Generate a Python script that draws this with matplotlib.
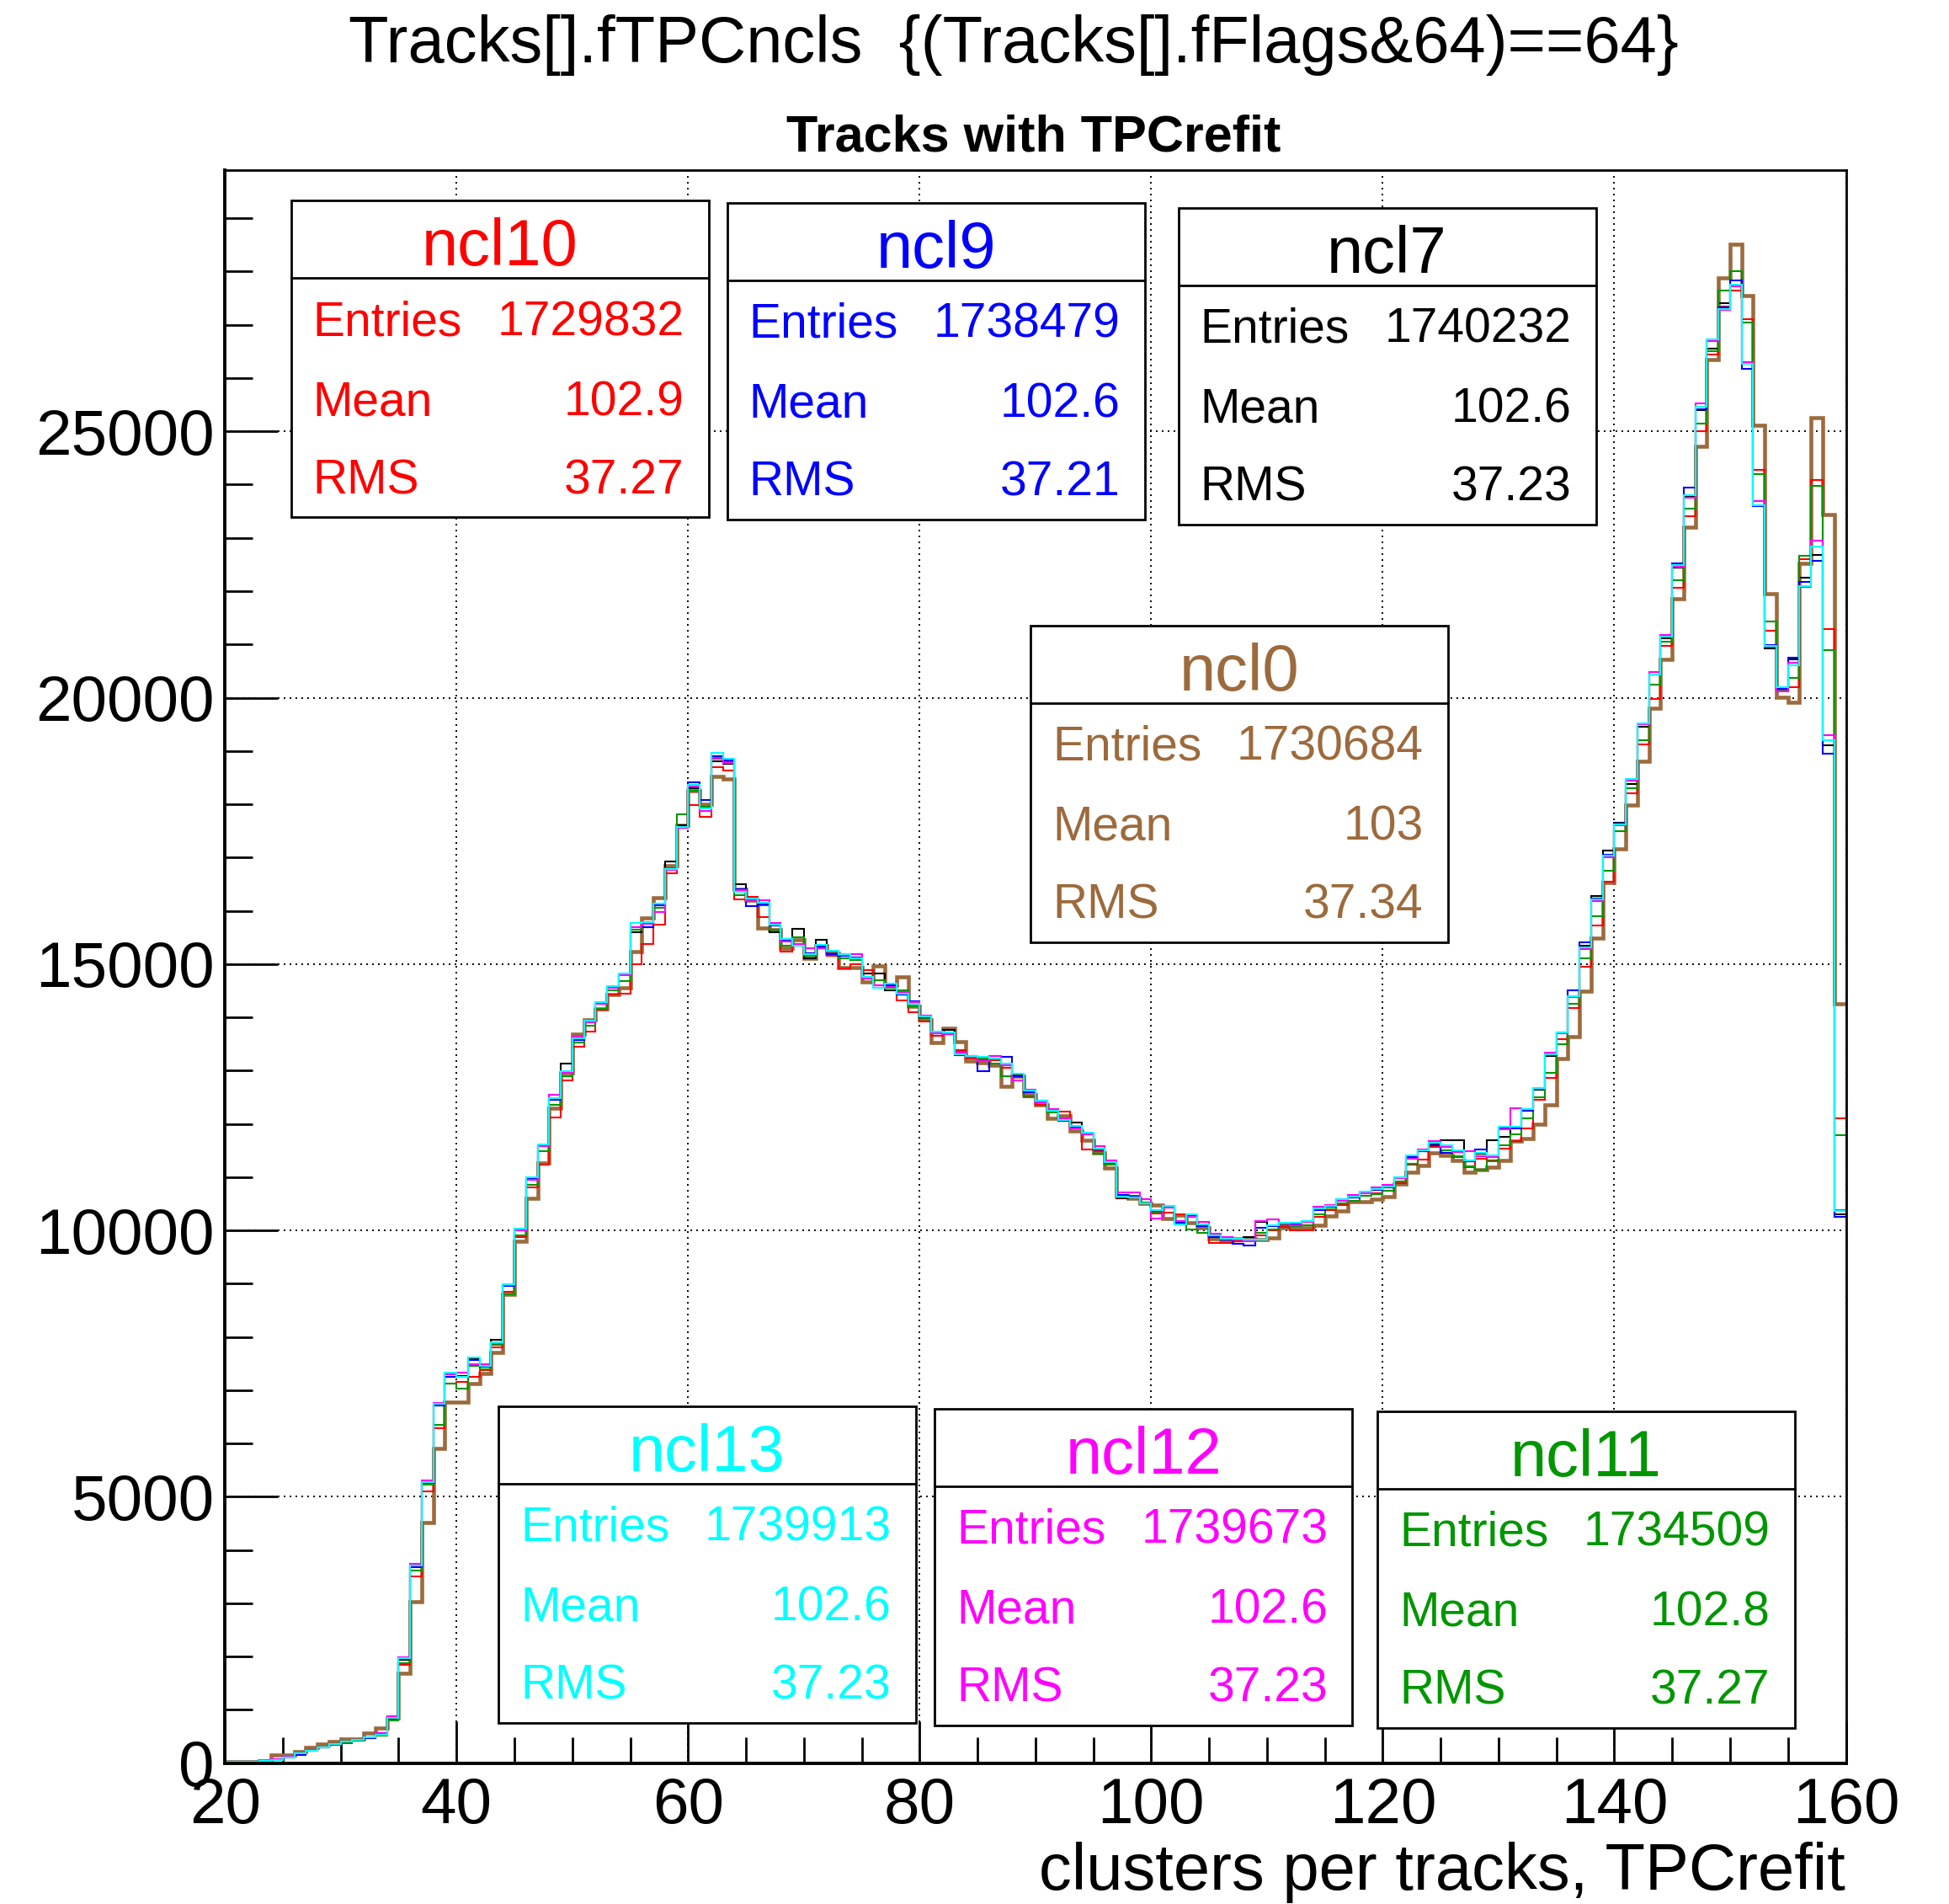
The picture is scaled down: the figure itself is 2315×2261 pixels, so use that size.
import numpy as np
import matplotlib.pyplot as plt
from matplotlib.patches import Rectangle
from matplotlib.lines import Line2D
from matplotlib.ticker import FormatStrFormatter

plt.rcParams['font.family'] = ['Liberation Sans', 'DejaVu Sans']

# bin edges: 1-cluster bins from 20 to 160
edges = np.arange(20, 161)

# counts per bin, bins 20..159 (10 per line)
ncl13 = [30, 30, 30, 40, 60, 100, 190, 230, 300, 360,
         400, 430, 480, 530, 840, 1975, 3710, 5275, 6740, 7330,
         7255, 7610, 7450, 7900, 8990, 10040, 10990, 11620, 12480, 12990,
         13600, 13940, 14280, 14585, 14815, 15770, 15780, 16130, 16790, 17580,
         18370, 17920, 18970, 18860, 16360, 16230, 16145, 15740, 15470, 15340,
         15180, 15355, 15250, 15185, 15105, 14760, 14550, 14630, 14445, 14260,
         14020, 13730, 13710, 13310, 13280, 13250, 13230, 13125, 12940, 12620,
         12440, 12250, 12070, 11960, 11830, 11540, 11280, 10640, 10620, 10510,
         10380, 10460, 10115, 10300, 10115, 9905, 9850, 9850, 9820, 9820,
         10090, 10136, 10136, 10180, 10410, 10455, 10590, 10636, 10727, 10772,
         10817, 11000, 11407, 11500, 11650, 11590, 11500, 11316, 11450, 11407,
         11950, 11950, 12270, 12680, 13310, 13720, 14400, 15310, 16216, 17030,
         17620, 18480, 19520, 20440, 21150, 22490, 23800, 25460, 26730, 27300,
         27760, 26270, 23620, 20970, 20190, 20615, 22100, 22840, 19200, 10360]

ncl12 = [30, 30, 30, 40, 70, 120, 180, 240, 300, 360,
         400, 440, 490, 560, 880, 1990, 3740, 5300, 6760, 7300,
         7330, 7480, 7480, 7880, 8970, 10000, 10950, 11580, 12550, 12960,
         13630, 13900, 14250, 14560, 14790, 15700, 15750, 15970, 16760, 17560,
         18330, 17880, 18870, 18780, 16380, 16180, 16200, 15770, 15420, 15380,
         15290, 15300, 15230, 15170, 15180, 14720, 14600, 14570, 14470, 14280,
         14040, 13700, 13680, 13340, 13260, 13180, 13270, 13100, 12810, 12640,
         12400, 12280, 12100, 11920, 11800, 11580, 11310, 10720, 10720, 10590,
         10220, 10420, 10180, 10260, 10160, 9930, 9880, 9820, 9800, 10170,
         10200, 10120, 10100, 10160, 10450, 10480, 10560, 10660, 10700, 10800,
         10860, 10980, 11350, 11520, 11680, 11560, 11470, 11480, 11400, 11380,
         11900, 12300, 12280, 12660, 13330, 13700, 14380, 15280, 16180, 17000,
         17600, 18450, 19500, 20480, 21180, 22460, 23760, 25530, 26700, 27280,
         27720, 26300, 23690, 20950, 20120, 20650, 22080, 22950, 19300, 10380]

ncl9 = [30, 30, 30, 40, 60, 110, 150, 240, 290, 350,
        400, 430, 470, 540, 850, 1960, 3690, 5260, 6710, 7255,
        7255, 7560, 7440, 7880, 8960, 10020, 10960, 11600, 12450, 12970,
        13580, 13920, 14260, 14560, 14800, 15700, 15700, 16100, 16780, 17560,
        18410, 18085, 18900, 18830, 16400, 16080, 16120, 15720, 15460, 15360,
        15200, 15330, 15190, 15160, 15120, 14730, 14560, 14600, 14430, 14300,
        14000, 13700, 13720, 13300, 13270, 12990, 13280, 13260, 12900, 12600,
        12420, 12240, 12060, 11930, 11820, 11520, 11270, 10660, 10640, 10500,
        10360, 10440, 10140, 10270, 10080, 9880, 9830, 9745, 9720, 10050,
        10080, 10130, 10120, 10170, 10380, 10440, 10580, 10620, 10710, 10760,
        10800, 10980, 11380, 11480, 11600, 11450, 11480, 11300, 11520, 11400,
        11930, 11920, 12250, 12660, 13290, 13710, 14500, 15400, 16230, 17050,
        17630, 18460, 19510, 20440, 21140, 22520, 23940, 25420, 26700, 27330,
        27830, 26170, 23600, 20990, 20170, 20757, 22170, 22575, 18950, 10250]

ncl7 = [30, 30, 30, 40, 60, 100, 170, 230, 300, 350,
        400, 430, 480, 530, 830, 1940, 3680, 5260, 6720, 7300,
        7260, 7580, 7460, 7950, 8980, 10030, 10970, 11600, 12470, 13125,
        13590, 13930, 14270, 14570, 14800, 15600, 15760, 16110, 16920, 17600,
        18300, 17950, 18800, 18760, 16500, 16250, 16100, 15600, 15450, 15660,
        15100, 15450, 15220, 15150, 15080, 14820, 14820, 14500, 14420, 14250,
        14010, 13700, 13770, 13290, 13260, 13220, 13220, 13100, 12920, 12600,
        12430, 12230, 12100, 12020, 11820, 11530, 11260, 10600, 10610, 10500,
        10360, 10440, 10130, 10270, 10100, 9900, 9840, 9830, 9870, 10165,
        10080, 10120, 10130, 10170, 10390, 10440, 10570, 10620, 10710, 10760,
        10800, 10990, 11380, 11480, 11620, 11700, 11700, 11300, 11440, 11700,
        11760, 11930, 12260, 12640, 13270, 13700, 14380, 15340, 16280, 17130,
        17660, 18380, 19460, 20440, 21120, 22450, 23780, 25400, 26560, 27400,
        27740, 26280, 23620, 20930, 20160, 20720, 22250, 22680, 19100, 10300]

ncl11 = [30, 30, 30, 40, 60, 100, 170, 230, 290, 350,
         390, 420, 470, 520, 800, 1880, 3620, 5220, 6350, 7130,
         7030, 7450, 7400, 7850, 8800, 9900, 10850, 11480, 12350, 12900,
         13520, 13850, 14160, 14500, 14680, 15650, 15700, 16050, 16800, 17810,
         18250, 17950, 18850, 18800, 16300, 16200, 16100, 15650, 15340, 15500,
         15150, 15300, 15200, 15100, 15080, 14720, 14700, 14560, 14500, 14200,
         13980, 13700, 13700, 13350, 13250, 13230, 13125, 12890, 12900, 12500,
         12430, 12220, 12080, 11930, 11800, 11435, 11230, 10660, 10650, 10520,
         10350, 10430, 10120, 10020, 9960, 9880, 9830, 9830, 9820, 9950,
         10020, 10100, 10080, 10100, 10300, 10400, 10500, 10560, 10650, 10680,
         10740, 10920, 11250, 11490, 11600, 11500, 11400, 11200, 11135, 11300,
         11600, 11800, 12100, 12500, 12950, 13500, 14250, 15100, 15900, 16750,
         17500, 18300, 19200, 20250, 21050, 22200, 23550, 25140, 26500, 27650,
         28000, 27040, 24190, 21430, 20150, 20370, 22670, 23975, 20900, 11790]

ncl10 = [30, 30, 30, 40, 60, 100, 170, 240, 290, 340,
         380, 420, 470, 520, 800, 1840, 3510, 5100, 6290, 7130,
         7150, 7250, 7380, 7800, 8850, 9880, 10800, 11230, 12120, 12810,
         13450, 13730, 14150, 14430, 14450, 15000, 15375, 15740, 16710, 17550,
         17990, 17760, 18700, 18640, 16210, 16260, 15880, 15650, 15240, 15350,
         15200, 15300, 15160, 14920, 15000, 14880, 14600, 14550, 14310, 14100,
         13920, 13650, 13680, 13380, 13230, 13200, 13200, 13050, 12880, 12520,
         12350, 12240, 12230, 11920, 11520, 11480, 11230, 10620, 10620, 10500,
         10320, 10330, 10300, 10250, 10080, 9770, 9770, 9800, 9820, 9900,
         10000, 10060, 10000, 10000, 10250, 10380, 10480, 10560, 10650, 10700,
         10740, 10880, 11230, 11330, 11560, 11460, 11380, 11180, 11350, 11320,
         11540, 11680, 11910, 12450, 12860, 13585, 14175, 14950, 15717, 16550,
         17490, 18210, 19120, 19980, 20970, 22065, 23410, 25000, 26450, 27350,
         27650, 27100, 24270, 21250, 20190, 20190, 22600, 24080, 21290, 12110]

ncl0 = [30, 30, 30, 40, 144, 144, 221, 290, 350, 400,
        450, 460, 560, 650, 840, 1690, 3030, 4520, 5900, 6770,
        6770, 7130, 7320, 7710, 8800, 9800, 10600, 11265, 12300, 12950,
        13680, 13960, 14160, 14420, 14550, 15240, 15870, 16250, 16850, 17600,
        18250, 18000, 18530, 18470, 16400, 16200, 15670, 15650, 15300, 15450,
        15100, 15350, 15200, 14930, 14930, 14660, 14970, 14600, 14760, 14200,
        13950, 13520, 13800, 13550, 13180, 13150, 13100, 12700, 12900, 12550,
        12350, 12100, 12150, 11860, 11700, 11450, 11170, 10650, 10600, 10500,
        10480, 10220, 10280, 10150, 10050, 9850, 9800, 9850, 9850, 9830,
        9865, 10050, 10050, 10050, 10090, 10270, 10360, 10545, 10545, 10590,
        10636, 10863, 11090, 11225, 11450, 11410, 11316, 11090, 11135, 11180,
        11316, 11680, 11725, 11997, 12360, 13220, 13630, 14490, 15490, 16530,
        17170, 17990, 18810, 19800, 20720, 21850, 23200, 24720, 26340, 27880,
        28520, 27550, 25120, 21960, 20010, 19910, 22525, 25260, 23440, 14250]

# stat box contents
box_names = ['ncl10', 'ncl9', 'ncl7', 'ncl0', 'ncl13', 'ncl12', 'ncl11']
box_entries = ['1729832', '1738479', '1740232', '1730684', '1739913', '1739673', '1734509']
box_means = ['102.9', '102.6', '102.6', '103', '102.6', '102.6', '102.8']
box_rms = ['37.27', '37.21', '37.23', '37.34', '37.23', '37.23', '37.27']

colors = {'ncl0': '#9c6a3c', 'ncl7': 'black', 'ncl9': '#0000ff', 'ncl10': '#ff0000',
          'ncl11': '#009600', 'ncl12': '#ff00ff', 'ncl13': '#00ffff'}
series = {'ncl0': ncl0, 'ncl7': ncl7, 'ncl10': ncl10, 'ncl11': ncl11,
          'ncl9': ncl9, 'ncl12': ncl12, 'ncl13': ncl13}

W, H = 2315, 2261
def fx(x):
    return x / W
def fy(y):
    return 1 - y / H

fig = plt.figure(figsize=(W / 100, H / 100), dpi=100)
ax = fig.add_axes([fx(267.2), fy(2093.6), 1925.3 / W, 1891.3 / H])

for name in ['ncl0', 'ncl7', 'ncl10', 'ncl11', 'ncl9', 'ncl12', 'ncl13']:
    lw = 3.3 if name == 'ncl0' else 1.5
    ax.stairs(series[name], edges, color=colors[name], lw=lw, baseline=None)

ax.set_xlim(20, 160)
ax.set_ylim(0, 29900)
ax.set_xticks(range(20, 161, 20))
ax.set_xticks(range(20, 161, 5), minor=True)
ax.set_yticks(range(0, 25001, 5000))
ax.set_yticks(range(0, 29001, 1000), minor=True)
ax.yaxis.set_major_formatter(FormatStrFormatter('%d'))
ax.tick_params(which='both', direction='in', width=2, top=False, right=False, labelsize=55)
ax.tick_params(axis='x', which='major', length=36, pad=12)
ax.tick_params(axis='x', which='minor', length=22)
ax.tick_params(axis='y', which='major', length=45, pad=9)
ax.tick_params(axis='y', which='minor', length=24)
ax.grid(True, which='major', color='black', linestyle=(0, (1, 2.6)), linewidth=1.4)
ax.set_axisbelow(True)
for s in ax.spines.values():
    s.set_linewidth(2)
ax.spines['left'].set_linewidth(2.8)
ax.spines['bottom'].set_linewidth(2.8)

# titles and axis label
fig.text(fx(1204), fy(74), 'Tracks[].fTPCncls  {(Tracks[].fFlags&64)==64}',
         ha='center', va='baseline', fontsize=56)
fig.text(fx(1228), fy(180), 'Tracks with TPCrefit', ha='center', va='baseline',
         fontsize=44, fontweight='bold')
fig.text(fx(2192), fy(2244), 'clusters per tracks, TPCrefit', ha='right', va='baseline',
         fontsize=56)

# stat boxes (top-left corners in pixels)
box_pos = [(345.5, 238.3), (863.7, 240.7), (1399.6, 246.6), (1223.9, 742.6),
           (592.0, 1669.8), (1110.2, 1672.8), (1635.9, 1675.7)]
bw, bh, sep = 496, 376, 92
for i, name in enumerate(box_names):
    x0, y0 = box_pos[i]
    c = colors[name]
    fig.add_artist(Rectangle((fx(x0), fy(y0 + bh)), bw / W, bh / H, transform=fig.transFigure,
                             facecolor='white', edgecolor='black', lw=2, zorder=5))
    fig.add_artist(Line2D([fx(x0), fx(x0 + bw)], [fy(y0 + sep)] * 2, transform=fig.transFigure,
                          color='black', lw=2, zorder=6))
    fig.text(fx(x0 + bw / 2), fy(y0 + 77), name, ha='center', va='baseline',
             fontsize=56, color=c, zorder=7)
    rows = [('Entries', box_entries[i]), ('Mean', box_means[i]), ('RMS', box_rms[i])]
    for (lab, val), yy in zip(rows, [160, 255, 348]):
        fig.text(fx(x0 + 26), fy(y0 + yy), lab, ha='left', va='baseline',
                 fontsize=41, color=c, zorder=7)
        fig.text(fx(x0 + 467), fy(y0 + yy), val, ha='right', va='baseline',
                 fontsize=41, color=c, zorder=7)

fig.savefig('out.png', dpi=100)
